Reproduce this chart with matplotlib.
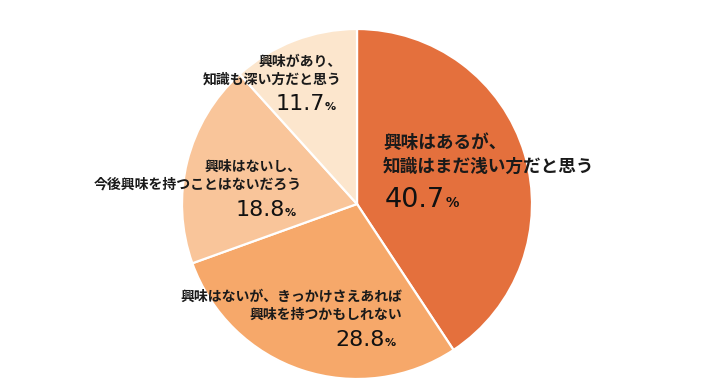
import matplotlib
matplotlib.use("Agg")
import matplotlib.pyplot as plt

plt.rcParams["font.family"] = ["Noto Sans CJK JP", "DejaVu Sans"]

W, H = 705, 390

values = [40.7, 28.8, 18.8, 11.7]
colors = ["#E4703D", "#F6A86A", "#F9C59A", "#FCE6CD"]
labels = [
    ["興味はあるが、", "知識はまだ浅い方だと思う"],
    ["興味はないが、きっかけさえあれば", "興味を持つかもしれない"],
    ["興味はないし、", "今後興味を持つことはないだろう"],
    ["興味があり、", "知識も深い方だと思う"],
]

fig = plt.figure(figsize=(W / 100, H / 100), dpi=100)
cx, cy, r = 357, 204, 175
ax = fig.add_axes([(cx - r) / W, (H - cy - r) / H, 2 * r / W, 2 * r / H])
ax.pie(values, colors=colors, startangle=90, counterclock=False, radius=1,
       wedgeprops=dict(edgecolor="white", linewidth=1.6))
ax.set_xlim(-1, 1)
ax.set_ylim(-1, 1)
ax.set_aspect("equal")
ax.axis("off")


def fx(px):
    return px / W


def fy(py):
    return 1 - py / H


# label layout: (x, ha, line y's, label size, number baseline y, number size)
layout = [
    (383, "left", [143, 167], 12.7, 207, 19.5),
    (402, "right", [297, 315], 10, 346, 16),
    (302, "right", [167, 185], 10, 216, 16),
    (342, "right", [62, 80], 10, 110, 16),
]

fig.canvas.draw()
renderer = fig.canvas.get_renderer()

for val, lab, (x, ha, ys, ls, nb, ns) in zip(values, labels, layout):
    for line, y in zip(lab, ys):
        fig.text(fx(x), fy(y), line, ha=ha, va="center", fontsize=ls,
                 fontweight="bold", color="#1a1a1a")
    num = f"{val:.1f}"
    ps = ns * 0.5
    if ha == "left":
        t = fig.text(fx(x + 2), fy(nb), num, ha="left", va="baseline",
                     fontsize=ns, family="DejaVu Sans", color="#111111")
        bb = t.get_window_extent(renderer)
        fig.text(bb.x1 / W, fy(nb), "%", ha="left", va="baseline",
                 fontsize=ps, family="DejaVu Sans", fontweight="bold",
                 color="#111111")
    else:
        xr = x - 6
        p = fig.text(fx(xr), fy(nb), "%", ha="right", va="baseline",
                     fontsize=ps, family="DejaVu Sans", fontweight="bold",
                     color="#111111")
        bb = p.get_window_extent(renderer)
        fig.text(bb.x0 / W, fy(nb), num, ha="right", va="baseline",
                 fontsize=ns, family="DejaVu Sans", color="#111111")

fig.savefig("out.png", dpi=100)
